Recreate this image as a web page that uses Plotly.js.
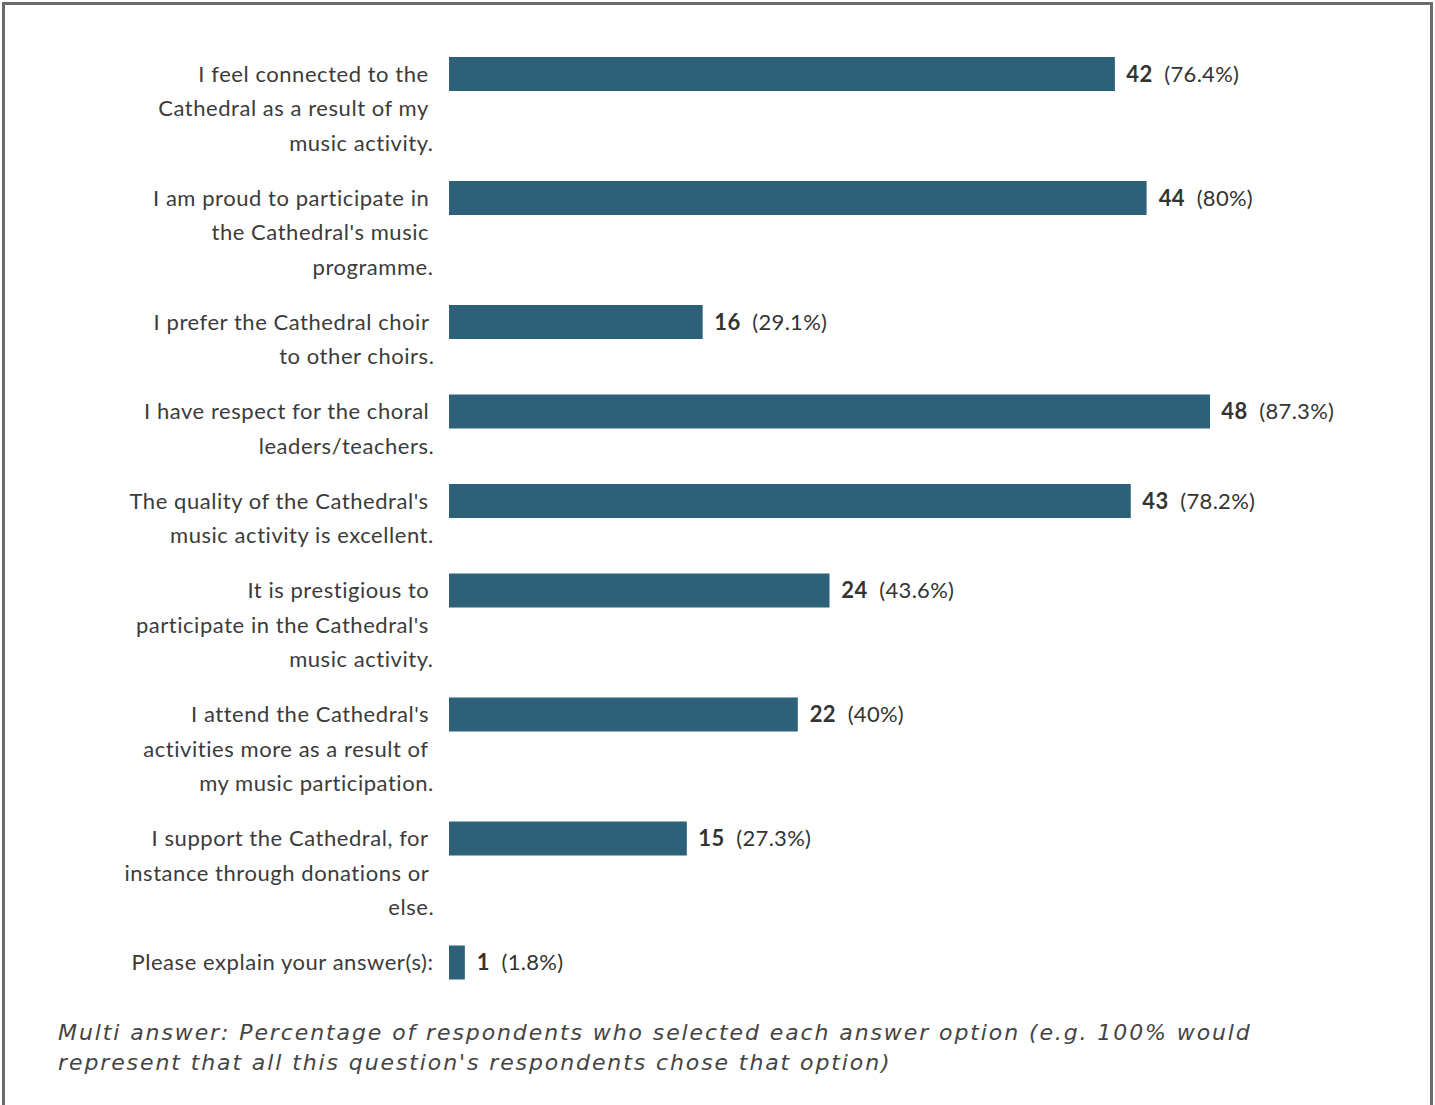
<!DOCTYPE html>
<html>
<head>
<meta charset="utf-8">
<script src="https://cdn.plot.ly/plotly-3.0.1.min.js"></script>
<style>
  html, body { margin: 0; padding: 0; background: #ffffff; }
  #chart { width: 1435px; height: 1105px; }
</style>
<style id="spacing"></style>
</head>
<body>
<div id="chart"></div>
<script>
// ---- Data ----
const categories = [
  "I feel connected to the<br>Cathedral as a result of my<br>music activity.",
  "I am proud to participate in<br>the Cathedral's music<br>programme.",
  "I prefer the Cathedral choir<br>to other choirs.",
  "I have respect for the choral<br>leaders/teachers.",
  "The quality of the Cathedral's<br>music activity is excellent.",
  "It is prestigious to<br>participate in the Cathedral's<br>music activity.",
  "I attend the Cathedral's<br>activities more as a result of<br>my music participation.",
  "I support the Cathedral, for<br>instance through donations or<br>else.",
  "Please explain your answer(s):"
];
const counts = [42, 44, 16, 48, 43, 24, 22, 15, 1];
const percents = ["76.4%", "80%", "29.1%", "87.3%", "78.2%", "43.6%", "40%", "27.3%", "1.8%"];
const totalRespondents = 55;
const footnoteLines = [
  "Multi answer: Percentage of respondents who selected each answer option (e.g. 100% would",
  "represent that all this question's respondents chose that option)"
];

// ---- Layout helpers (pixel-based y axis) ----
const W = 1435, H = 1105;
const marginL = 449, marginR = 114;
const plotW = W - marginL - marginR;
const lineH = 34.5, gap = 20.5, firstY = 74;

const labelLines = categories.map(c => c.split("<br>"));
const yPos = [];
let cur = firstY;
labelLines.forEach(lines => { yPos.push(cur); cur += lines.length * lineH + gap; });

const textColor = "#3b3b3b";
const labelFont = {family: "Lato, 'Noto Sans', sans-serif", size: 22, color: textColor};

const annotations = [];
const cssRules = [];
// footnote (indices 0,1)
footnoteLines.forEach((ln, j) => {
  cssRules.push('g.annotation[data-index="' + annotations.length + '"] text { letter-spacing: 1.9px; }');
  annotations.push({
    xref: "paper", yref: "y", x: 0, y: 1032 + j * 30, xanchor: "left", yanchor: "middle",
    xshift: 56 - marginL, text: "<i>" + ln + "</i>", align: "left", showarrow: false,
    font: {family: "'DejaVu Sans', sans-serif", size: 22, color: "#444444"}
  });
});
labelLines.forEach((lines, i) => {
  lines.forEach((ln, j) => {
    const last = j === lines.length - 1;
    cssRules.push('g.annotation[data-index="' + annotations.length + '"] text { letter-spacing: 0.55px; }');
    annotations.push({
      xref: "paper", yref: "y", x: 0, y: yPos[i] + j * lineH - 0.75,
      xanchor: "right", yanchor: "middle", xshift: last ? -13 : -18,
      text: ln, showarrow: false, font: labelFont, align: "right"
    });
  });
});
counts.forEach((v, i) => {
  cssRules.push('g.annotation[data-index="' + annotations.length + '"] text { letter-spacing: 0.3px; }');
  annotations.push({
    xref: "x", yref: "y", x: v, y: yPos[i] - 0.75,
    xanchor: "left", yanchor: "middle", xshift: 11,
    text: "<b>" + v + "</b>\u00a0 (" + percents[i] + ")",
    showarrow: false, font: {family: "Lato, 'Noto Sans', sans-serif", size: 22, color: "#333333"}
  });
});
document.getElementById("spacing").textContent = cssRules.join("\n");

const px2paperX = px => (px - marginL) / plotW;
const px2paperY = py => 1 - py / H;

const trace = {
  type: "bar", orientation: "h",
  x: counts, y: yPos, width: 34,
  marker: {color: "#2d6179"},
  hoverinfo: "skip"
};

const layout = {
  width: W, height: H,
  margin: {l: marginL, r: marginR, t: 0, b: 0, pad: 0},
  paper_bgcolor: "#ffffff", plot_bgcolor: "#ffffff",
  showlegend: false,
  xaxis: {range: [0, totalRespondents], visible: false, fixedrange: true},
  yaxis: {range: [H, 0], autorange: false, visible: false, fixedrange: true},
  annotations: annotations,
  shapes: [{
    type: "rect", xref: "paper", yref: "paper",
    x0: px2paperX(3.5), x1: px2paperX(1431.5), y0: px2paperY(1115), y1: px2paperY(3.5),
    line: {color: "#6b6b6b", width: 3}, fillcolor: "rgba(0,0,0,0)", layer: "above"
  }]
};

Plotly.newPlot("chart", [trace], layout, {staticPlot: true, displayModeBar: false});
</script>
</body>
</html>
